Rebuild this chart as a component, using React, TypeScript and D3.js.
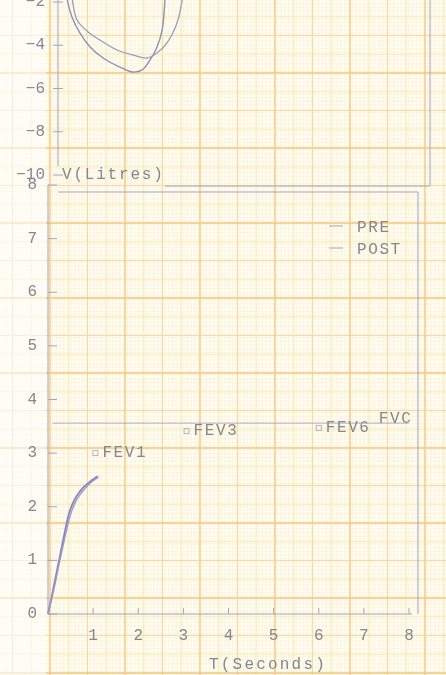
import React from 'react';
import * as d3 from 'd3';

const W = 446, H = 675;

// flow-volume loops (only the inspiratory part is on the sheet)
const preLoopVolume = [0.17, 0.2, 0.30, 0.47, 0.69, 0.97, 1.33, 1.61, 1.81, 1.98, 2.13, 2.24, 2.28, 2.30, 2.31];
const preLoopFlow = [-1.4, -1.91, -2.69, -3.43, -4.08, -4.59, -5.01, -5.24, -5.14, -4.68, -4.08, -3.29, -2.51, -1.91, -1.4];
const postLoopVolume = [0.29, 0.31, 0.41, 0.65, 0.90, 1.27, 1.61, 1.91, 2.13, 2.34, 2.56, 2.67, 2.70];
const postLoopFlow = [-1.4, -1.91, -2.83, -3.39, -3.76, -4.22, -4.45, -4.59, -4.36, -3.90, -2.97, -1.91, -1.4];

// volume-time curves
const preTime = [0, 0.12, 0.25, 0.36, 0.46, 0.58, 0.72, 0.9, 1.1];
const preVolume = [0, 0.48, 1.02, 1.48, 1.86, 2.12, 2.3, 2.45, 2.57];
const postTime = [0, 0.13, 0.26, 0.38, 0.49, 0.61, 0.75, 0.92, 1.12];
const postVolume = [0, 0.46, 0.99, 1.45, 1.83, 2.09, 2.27, 2.43, 2.55];

const markerNames = ['FEV1', 'FEV3', 'FEV6'];
const markerTimes = [1.05, 3.07, 6.0];
const markerVolumes = [3.0, 3.41, 3.47];
const fvcLevel = 3.56;
const fvcLabelTime = 7.33;
const fvcLabelVolume = 3.64;

const timeTicks = [1, 2, 3, 4, 5, 6, 7, 8];
const volumeTicks = [0, 1, 2, 3, 4, 5, 6, 7, 8];
const flowTicks = [-2, -4, -6, -8, -10];
const legendNames = ['PRE', 'POST'];

const tX = d3.scaleLinear().domain([0, 8]).range([48, 409]);
const vY = d3.scaleLinear().domain([0, 8]).range([614, 185]);
const lvX = d3.scaleLinear().domain([0, 8]).range([58, 430]);
const fY = d3.scaleLinear().domain([-2, -10]).range([2, 175]);

const FONT = '"Liberation Mono", "DejaVu Sans Mono", monospace';
const INK = '#86868e';
const LINE = '#a2a4c2';

const loopLine = d3.line<number[]>().x(d => lvX(d[0])).y(d => fY(d[1])).curve(d3.curveCatmullRom);
const vtLine = d3.line<number[]>().x(d => tX(d[0])).y(d => vY(d[1])).curve(d3.curveMonotoneX);

const zip = (a: number[], b: number[]) => a.map((v, i) => [v, b[i]]);

function Paper() {
  const fine = d3.range(0, W + 4, 3.75);
  const fineY = d3.range(0, H + 4, 3.75);
  const mid = d3.range(-25, W + 20, 18.75);
  const midY = d3.range(-2, H + 20, 18.75);
  const half = d3.range(-25 + 37.5, W + 40, 75);
  const halfY = d3.range(-2 + 37.5, H + 40, 75);
  const major = d3.range(-25, W + 40, 75);
  const majorY = d3.range(-2, H + 40, 75);
  return (
    <g>
      <rect width={W} height={H} fill="#fffdf5" />
      {fine.map(x => <line key={'fx' + x} x1={x} x2={x} y1={0} y2={H} stroke="#f9f2d2" strokeWidth={0.7} />)}
      {fineY.map(y => <line key={'fy' + y} y1={y} y2={y} x1={0} x2={W} stroke="#f9f2d2" strokeWidth={0.7} />)}
      {mid.map(x => <line key={'mx' + x} x1={x} x2={x} y1={0} y2={H} stroke="#f8e6b0" strokeWidth={0.9} />)}
      {midY.map(y => <line key={'my' + y} y1={y} y2={y} x1={0} x2={W} stroke="#f8e6b0" strokeWidth={0.9} />)}
      {half.map(x => <line key={'hx' + x} x1={x} x2={x} y1={0} y2={H} stroke="#f6d8a4" strokeWidth={1} />)}
      {halfY.map(y => <line key={'hy' + y} y1={y} y2={y} x1={0} x2={W} stroke="#f6d8a4" strokeWidth={1} />)}
      {major.map(x => <line key={'Mx' + x} x1={x} x2={x} y1={0} y2={H} stroke="#f4c888" strokeWidth={1.3} />)}
      {majorY.map(y => <line key={'My' + y} y1={y} y2={y} x1={0} x2={W} stroke="#f4c888" strokeWidth={1.3} />)}
      <rect x={0} y={0} width={46} height={H} fill="#ffffff" opacity={0.55} />
    </g>
  );
}

export default function App() {
  return (
    <div style={{ position: 'absolute', left: 0, top: 0 }}>
      <svg width={W} height={H} style={{ display: 'block' }}>
        <defs>
          <filter id="soft"><feGaussianBlur stdDeviation="0.4" /></filter>
        </defs>
        <Paper />
        <g filter="url(#soft)" fontFamily={FONT} fill={INK}>
          {/* flow-volume frame */}
          <line x1={58} x2={58} y1={-5} y2={166} stroke={LINE} />
          <line x1={430} x2={430} y1={-5} y2={186} stroke={LINE} />
          <line x1={165} x2={430} y1={186} y2={186} stroke={LINE} />
          {flowTicks.map(f => (
            <g key={f}>
              <line x1={53} x2={63} y1={fY(f)} y2={fY(f)} stroke={LINE} />
              <text x={45} y={fY(f)} textAnchor="end" dominantBaseline="central" fontSize={16}>{'\u2212' + Math.abs(f)}</text>
            </g>
          ))}
          <path d={loopLine(zip(preLoopVolume, preLoopFlow)) || ''} fill="none" stroke="#8e90b6" strokeWidth={1.4} />
          <path d={loopLine(zip(postLoopVolume, postLoopFlow)) || ''} fill="none" stroke="#9a9cc0" strokeWidth={1.3} />

          {/* volume-time frame */}
          <path d="M58,192H418V614" fill="none" stroke={LINE} />
          <line x1={tX(0)} x2={tX(0)} y1={vY(8)} y2={vY(0)} stroke={LINE} />
          <line x1={tX(0)} x2={412} y1={vY(0)} y2={vY(0)} stroke={LINE} />
          {volumeTicks.map(v => (
            <g key={v}>
              <line x1={tX(0)} x2={tX(0) + 9} y1={vY(v)} y2={vY(v)} stroke={LINE} />
              <text x={37} y={vY(v)} textAnchor="end" dominantBaseline="central" fontSize={16}>{v}</text>
            </g>
          ))}
          {timeTicks.map(t => (
            <g key={t}>
              <line x1={tX(t)} x2={tX(t)} y1={vY(0)} y2={vY(0) - 6} stroke={LINE} />
              <text x={tX(t)} y={640} textAnchor="middle" fontSize={16}>{t}</text>
            </g>
          ))}
          <text x={62} y={179} fontSize={16} letterSpacing={1.8}>V(Litres)</text>
          <text x={209} y={669} fontSize={16} letterSpacing={2.2}>T(Seconds)</text>

          <line x1={tX(0.1)} x2={tX(8)} y1={vY(fvcLevel)} y2={vY(fvcLevel)} stroke={LINE} strokeWidth={0.9} />
          <path d={vtLine(zip(preTime, preVolume)) || ''} fill="none" stroke="#8884c0" strokeWidth={1.8} />
          <path d={vtLine(zip(postTime, postVolume)) || ''} fill="none" stroke="#9a98c8" strokeWidth={1.4} />

          {markerNames.map((n, i) => (
            <g key={n}>
              <rect x={tX(markerTimes[i]) - 2.5} y={vY(markerVolumes[i]) - 2.5} width={5} height={5} fill="none" stroke={LINE} strokeWidth={0.8} />
              <text x={tX(markerTimes[i]) + 7} y={vY(markerVolumes[i])} dominantBaseline="central" fontSize={16} letterSpacing={1.6}>{n}</text>
            </g>
          ))}
          <text x={tX(fvcLabelTime)} y={vY(fvcLabelVolume)} dominantBaseline="central" fontSize={16} letterSpacing={1.6}>FVC</text>

          {legendNames.map((n, i) => (
            <g key={n}>
              <line x1={329} x2={343} y1={226 + i * 22} y2={226 + i * 22} stroke={LINE} />
              <text x={357} y={228 + i * 22} dominantBaseline="central" fontSize={16} letterSpacing={1.6}>{n}</text>
            </g>
          ))}
        </g>
      </svg>
    </div>
  );
}
